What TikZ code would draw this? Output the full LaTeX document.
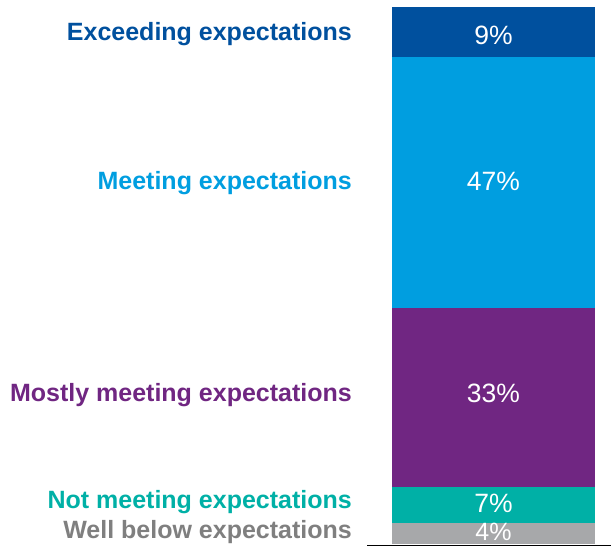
\documentclass[tikz,border=0pt]{standalone}
\usepackage{fontspec}
\setmainfont{Liberation Sans}
\usetikzlibrary{positioning}
\definecolor{exceedblue}{RGB}{0,80,158}
\definecolor{meetblue}{RGB}{0,158,224}
\definecolor{mostlypurple}{RGB}{112,38,130}
\definecolor{notteal}{RGB}{0,176,166}
\definecolor{wellgray}{RGB}{167,168,170}
\definecolor{welltext}{RGB}{127,127,127}
\tikzset{
    seg/.style={rectangle,inner sep=0pt,minimum width=203pt},
    pct/.style={inner sep=0pt,text=white,font=\fontsize{26.5}{27}\selectfont},
    lab/.style={anchor=east,inner sep=0pt,font=\fontsize{25}{25}\selectfont\bfseries},
}
\begin{document}
\begin{tikzpicture}[x=1pt,y=-1pt]
\useasboundingbox (0,0) rectangle (611,546);
% bar segments
\node[seg,fill=exceedblue,minimum height=50pt]    (ex) at (493.5,32) {};
\node[seg,fill=meetblue,minimum height=251pt]     (me) at (493.5,182.5) {};
\node[seg,fill=mostlypurple,minimum height=179pt] (mo) at (493.5,397.5) {};
\node[seg,fill=notteal,minimum height=36pt]       (no) at (493.5,505) {};
\node[seg,fill=wellgray,minimum height=21pt]      (wb) at (493.5,533.5) {};
% shares
\node[pct] (pex) at (493.5,35)  {9\%};
\node[pct] (pme) at (493.5,181) {47\%};
\node[pct] (pmo) at (493.5,393) {33\%};
\node[pct] (pno) at (493.5,503) {7\%};
\node[pct,font=\fontsize{25}{25}\selectfont] (pwb) at (493.5,532) {4\%};
% category names
\node[lab,text=exceedblue]   (lex) at (352,34)  {Exceeding expectations};
\node[lab,text=meetblue]     (lme) at (352,183) {Meeting expectations};
\node[lab,text=mostlypurple] (lmo) at (352,395) {Mostly meeting expectations};
\node[lab,text=notteal]      (lno) at (352,502) {Not meeting expectations};
\node[lab,text=welltext]     (lwb) at (352,532) {Well below expectations};
% base line
\coordinate (b0) at (367,545);
\coordinate (b1) at (611,545);
\draw[line width=0.8pt] (b0) -- (b1);
\end{tikzpicture}
\end{document}
